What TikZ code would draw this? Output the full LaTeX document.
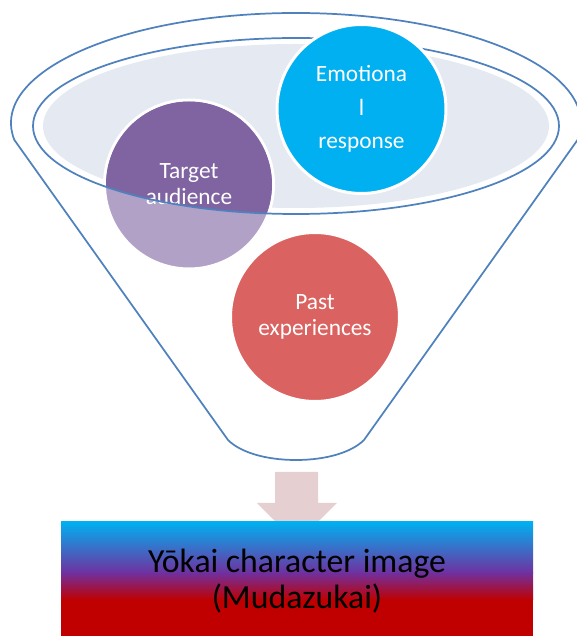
\documentclass[tikz,border=0pt]{standalone}
\usepackage{fontspec}
\setmainfont{Carlito}
\definecolor{funnelblue}{RGB}{79,129,189}
\definecolor{ellfill}{RGB}{228,233,242}
\definecolor{psolid}{RGB}{128,100,162}
\definecolor{plight}{RGB}{178,161,199}
\definecolor{emocyan}{RGB}{0,176,240}
\definecolor{pastred}{RGB}{218,99,97}
\definecolor{arrowpink}{RGB}{230,207,208}
\definecolor{gcyan}{RGB}{0,176,240}
\definecolor{gpurple}{RGB}{112,48,160}
\definecolor{gred}{RGB}{192,0,0}
\begin{document}
\begin{tikzpicture}[x=0.75pt,y=0.75pt,
  funnelline/.style={draw=funnelblue, line width=1.3pt},
  circ/.style={circle, draw=white, line width=2.25pt, minimum size=126.75pt, inner sep=0pt,
    text=white, align=center},
  circtext/.style={font=\fontsize{17.5pt}{19.5pt}\selectfont},
]
\useasboundingbox (0,0) rectangle (577,636);
% outer funnel outline
\draw[funnelline] (14.4,496) arc[start angle=188.9, end angle=-8.9, x radius=285, y radius=110]
  -- (364,196) .. controls (352,184) and (327,176) .. (296,176)
  .. controls (265,176) and (240,184) .. (228,196) -- cycle;
% inner filled ellipse
\fill[ellfill] (296,510) ellipse [x radius=253, y radius=82];
% target audience circle
\node[circ, fill=plight] (target) at (189,451.5) {};
\begin{scope}
  \clip (296,510) ellipse [x radius=263, y radius=88];
  \fill[psolid] (target.center) circle [radius=83];
\end{scope}
\node[circtext, text=white, align=center, inner sep=0pt] (targettext) at (target.center) {Target\\audience};
% inner ellipse outline
\draw[funnelline] (296,510) ellipse [x radius=263, y radius=88];
% emotional response circle
\node[circ, fill=emocyan, font=\fontsize{17.5pt}{25pt}\selectfont]
  (emo) at (361.5,527) {Emotiona\\l\\response};
% past experiences circle
\node[circ, circtext, fill=pastred] (past) at (315,319) {Past\\experiences};
% arrow
\fill[arrowpink] (275,164) -- (318,164) -- (318,133) -- (337,133) -- (296.5,93)
  -- (257,133) -- (275,133) -- cycle;
% gradient box
\fill[gred] (61,0) rectangle (533,36.5);
\shade[bottom color=gred, top color=gpurple] (61,36) rectangle (533,63.5);
\shade[bottom color=gpurple, top color=gcyan] (61,63) rectangle (533,114);
\node[align=center, text=black, font=\fontsize{25.3pt}{27pt}\selectfont]
  (result) at (297,54.5) {Yōkai character image\\(Mudazukai)};
\end{tikzpicture}
\end{document}
